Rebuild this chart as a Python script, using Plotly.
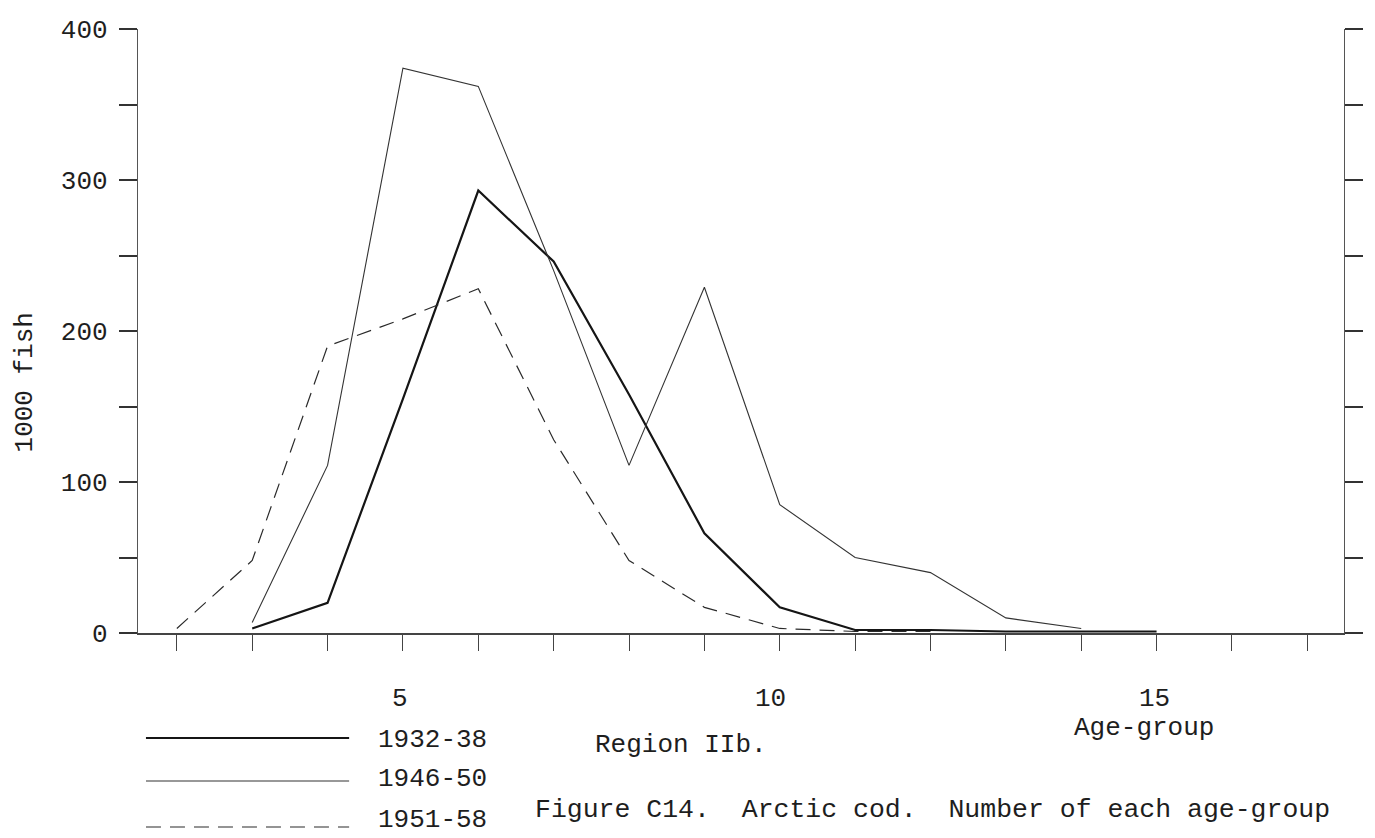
import plotly.graph_objects as go

# ---- data ----
ages_1932 = [3, 4, 5, 6, 7, 8, 9, 10, 11, 12, 13, 14, 15]
fish_1932 = [3, 20, 155, 293, 246, 158, 66, 17, 2, 2, 1, 1, 1]

ages_1946 = [3, 4, 5, 6, 7, 8, 9, 10, 11, 12, 13, 14]
fish_1946 = [7, 111, 374, 362, 240, 111, 229, 85, 50, 40, 10, 3]

ages_1951 = [2, 3, 4, 5, 6, 7, 8, 9, 10, 11, 12]
fish_1951 = [3, 48, 190, 208, 228, 128, 48, 17, 3, 1, 1]

series_names = ["1932-38", "1946-50", "1951-58"]
x_tick_vals = list(range(2, 18))
x_label_vals = [5, 10, 15]
y_tick_vals = list(range(0, 401, 50))
y_tick_text = ["0", "", "100", "", "200", "", "300", "", "400"]

# ---- layout geometry ----
W, H = 1375, 838
L, R, T, B = 138, 26, 29, 205
PW, PH = W - L - R, H - T - B
FONT = "Liberation Mono, DejaVu Sans Mono, monospace"
INK = "#1e1e1e"


def px(xp):
    return (xp - L) / PW


def py(yp):
    return (H - B - yp) / PH


fig = go.Figure()
fig.add_trace(go.Scatter(x=ages_1932, y=fish_1932, mode="lines", name=series_names[0],
                         line=dict(color="#151515", width=2.2), cliponaxis=False))
fig.add_trace(go.Scatter(x=ages_1946, y=fish_1946, mode="lines", name=series_names[1],
                         line=dict(color="#333333", width=1.1), cliponaxis=False))
fig.add_trace(go.Scatter(x=ages_1951, y=fish_1951, mode="lines", name=series_names[2],
                         line=dict(color="#2a2a2a", width=1.2, dash="15px,9px"), cliponaxis=False))

ann = []
# x tick labels, far below the axis
for v, dx in zip(x_label_vals, [-3, -9, -2]):
    ann.append(dict(x=v, y=py(699), xref="x", yref="paper", text=str(v), showarrow=False,
                    xshift=dx, xanchor="center", yanchor="middle",
                    font=dict(family=FONT, size=26, color=INK)))
ann.append(dict(x=px(1148), y=py(728), xref="paper", yref="paper", text="Age-group",
                showarrow=False, xanchor="center", yanchor="middle",
                font=dict(family=FONT, size=26, color=INK)))
ann.append(dict(x=px(683), y=py(745), xref="paper", yref="paper", text="Region\u00a0IIb.",
                showarrow=False, xanchor="center", yanchor="middle",
                font=dict(family=FONT, size=26, color=INK)))
ann.append(dict(x=px(25), y=py(382), xref="paper", yref="paper", text="1000\u00a0fish",
                textangle=-90, showarrow=False, xanchor="center", yanchor="middle",
                font=dict(family=FONT, size=26, color=INK)))
ann.append(dict(x=px(535), y=py(810), xref="paper", yref="paper", xanchor="left", yanchor="middle",
                text="Figure\u00a0C14.\u00a0\u00a0Arctic\u00a0cod.\u00a0\u00a0Number\u00a0of\u00a0each\u00a0age-group",
                showarrow=False, font=dict(family=FONT, size=26.5, color=INK)))
ann.append(dict(x=px(745), y=py(850), xref="paper", yref="paper", xanchor="left", yanchor="middle",
                text="caught\u00a0per\u00a0unit\u00a0effort,\u00a03-year\u00a0averages.",
                showarrow=False, font=dict(family=FONT, size=26.5, color=INK)))

# legend (drawn manually like the original typed legend)
leg_y = [738, 781, 827]
leg_txt_y = [740, 779, 820]
leg_styles = [dict(color="#151515", width=2.2), dict(color="#333333", width=1.1),
              dict(color="#2a2a2a", width=1.2, dash="15px,9px")]
shapes = []
for name, ly, ty, st in zip(series_names, leg_y, leg_txt_y, leg_styles):
    shapes.append(dict(type="line", xref="paper", yref="paper", x0=px(146), x1=px(350),
                       y0=py(ly), y1=py(ly), line=st))
    ann.append(dict(x=px(377), y=py(ty), xref="paper", yref="paper", xanchor="left", yanchor="middle",
                    text=name, showarrow=False, font=dict(family=FONT, size=26, color=INK)))

fig.update_layout(
    width=W, height=H,
    margin=dict(l=L, r=R, t=T, b=B, pad=0),
    paper_bgcolor="white", plot_bgcolor="white",
    showlegend=False,
    annotations=ann, shapes=shapes,
    font=dict(family=FONT, color=INK),
)
fig.update_xaxes(range=[1.4846, 17.487], showgrid=False, zeroline=False, showline=True,
                 linecolor="#444444", linewidth=1.6, ticks="outside", ticklen=16, tickwidth=1.2,
                 tickcolor="#444444", tickvals=x_tick_vals, showticklabels=False, mirror=False)
fig.update_yaxes(range=[0, 400], showgrid=False, zeroline=False, showline=True,
                 linecolor="#555555", linewidth=1.4, ticks="outside", ticklen=18, tickwidth=1.6,
                 tickcolor="#333333", tickvals=y_tick_vals, ticktext=y_tick_text, mirror="ticks",
                 ticklabelstandoff=6,
                 tickfont=dict(family=FONT, size=26, color=INK))

fig.write_html("out.html")
